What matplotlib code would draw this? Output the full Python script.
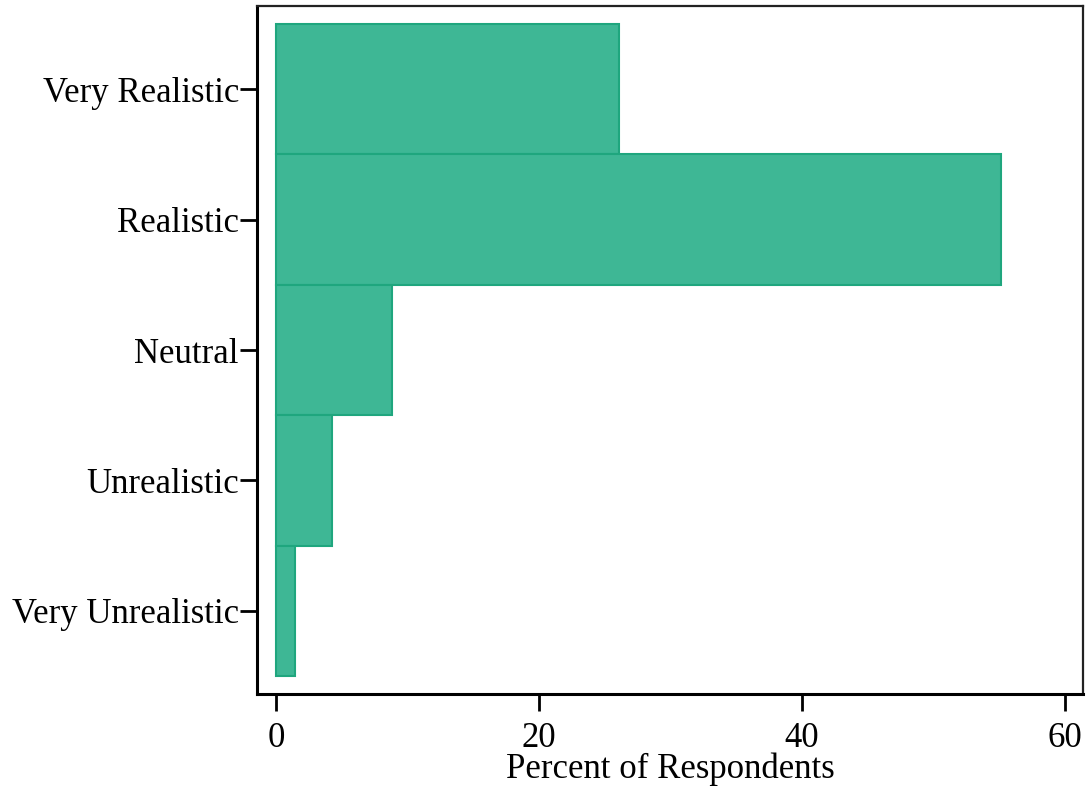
import matplotlib
matplotlib.use("Agg")
import matplotlib.pyplot as plt

categories = ["Very Realistic", "Realistic", "Neutral", "Unrealistic", "Very Unrealistic"]
percents = [26.07, 55.14, 8.83, 4.27, 1.47]
xticks = [0, 20, 40, 60]

plt.rcParams['font.family'] = ['Liberation Serif', 'DejaVu Serif']

fig = plt.figure(figsize=(10.91, 7.91), dpi=100)
ax = fig.add_axes([0.2356, 0.1226, 0.7571, 0.8698])

ypos = list(range(len(categories), 0, -1))
ax.barh(ypos, percents, height=1.0, left=0, color='#3eb795', edgecolor='#1fa67e', linewidth=1.5)

ax.set_xlim(-1.44, 61.37)
ax.set_ylim(0.362, 5.638)
ax.set_yticks(ypos)
ax.set_yticklabels(categories, fontsize=25)
ax.set_xticks(xticks)
ax.set_xticklabels([str(t) for t in xticks], fontsize=25)
ax.set_xlabel("Percent of Respondents", fontsize=25, labelpad=-2)

ax.tick_params(axis='y', direction='out', length=12, width=2, color='black', pad=1)
ax.tick_params(axis='x', direction='out', length=12, width=2, color='black', pad=8)
for s in ['left', 'bottom']:
    ax.spines[s].set_linewidth(2.2)
    ax.spines[s].set_color('black')
for s in ['top', 'right']:
    ax.spines[s].set_linewidth(1.6)
    ax.spines[s].set_color('#222222')

fig.savefig("out.png", dpi=100)
